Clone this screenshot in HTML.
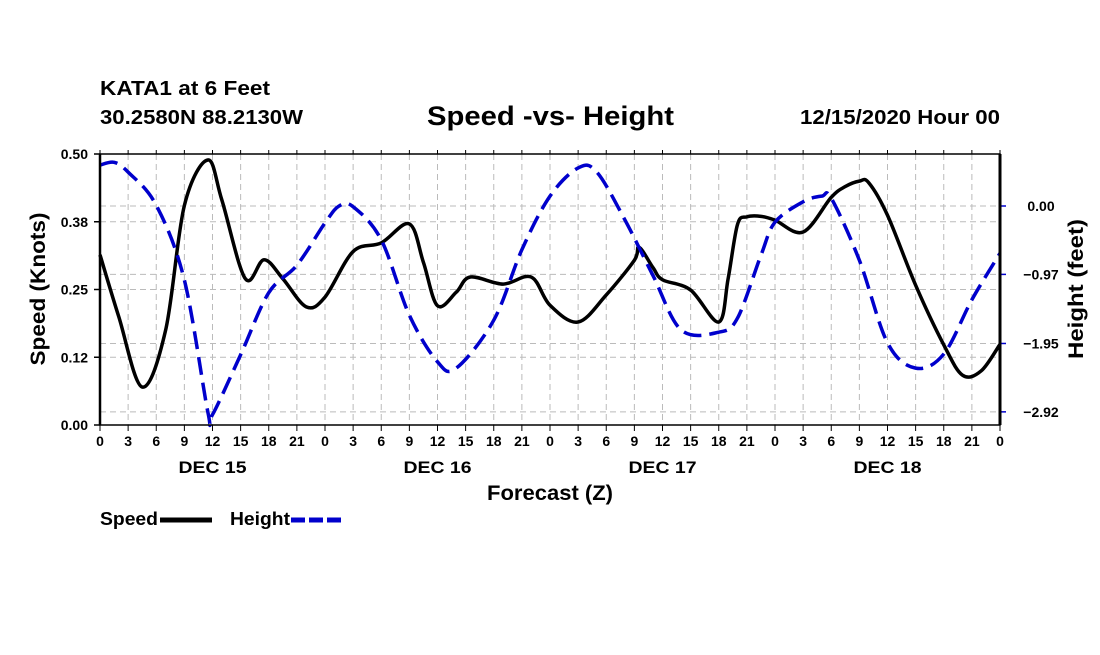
<!DOCTYPE html>
<html><head><meta charset="utf-8"><style>
body{margin:0;background:#fff;width:1100px;height:650px;overflow:hidden;font-family:"Liberation Sans",sans-serif}
svg text{font-family:"Liberation Sans",sans-serif;font-weight:bold}
</style></head><body>
<svg id="chart" width="1100" height="650" xmlns="http://www.w3.org/2000/svg">
<text x="100" y="95" font-size="20" textLength="170" lengthAdjust="spacingAndGlyphs">KATA1 at 6 Feet</text>
<text x="100" y="124" font-size="20" textLength="203" lengthAdjust="spacingAndGlyphs">30.2580N 88.2130W</text>
<text x="427" y="125" font-size="27" textLength="247" lengthAdjust="spacingAndGlyphs">Speed -vs- Height</text>
<text x="800" y="124" font-size="20" textLength="200" lengthAdjust="spacingAndGlyphs">12/15/2020 Hour 00</text>
<g id="grid"></g><g id="series"></g><g id="axes"></g>
<text transform="translate(45,289) rotate(-90)" font-size="21" text-anchor="middle" textLength="153" lengthAdjust="spacingAndGlyphs">Speed (Knots)</text>
<text transform="translate(1083,289) rotate(-90)" font-size="21" text-anchor="middle" textLength="140" lengthAdjust="spacingAndGlyphs">Height (feet)</text>
<text x="550" y="500" font-size="21" text-anchor="middle" textLength="126" lengthAdjust="spacingAndGlyphs">Forecast (Z)</text>
<g><text x="100" y="525" font-size="18" textLength="58" lengthAdjust="spacingAndGlyphs">Speed</text><line x1="160" y1="520" x2="212" y2="520" stroke="#000" stroke-width="5"/></g>
<g><text x="230" y="525" font-size="18" textLength="60" lengthAdjust="spacingAndGlyphs">Height</text><line x1="291" y1="520" x2="343" y2="520" stroke="#00c" stroke-width="5" stroke-dasharray="14,4"/></g>
</svg>
<script>
const hours=[0,2,4.5,7,9,11.5,13,15.5,17.5,19.5,22,24,27,30,33,34.5,36,38,39.5,43,46,48,51,54,57,57.5,59,60,63,66,67,68,69,70.5,72,75,78,79.5,81,82,84,87,90,92,94,96];
const speed=[0.314,0.2,0.07,0.175,0.405,0.489,0.415,0.27,0.305,0.27,0.218,0.236,0.32,0.336,0.371,0.3,0.22,0.245,0.273,0.26,0.273,0.221,0.19,0.24,0.304,0.328,0.29,0.268,0.249,0.19,0.27,0.37,0.384,0.385,0.378,0.356,0.42,0.44,0.45,0.447,0.387,0.258,0.148,0.092,0.1,0.149];
const hHours=[0,1.5,3,6,9,11.5,12,15,18,21,24,25.5,27,30,33,36,38,42,45,48,51,53,56,59,62,66,68,70.5,72,75,77,78,81,84,87,90,93,96];
const height=[0.58,0.62,0.48,0.01,-1.05,-2.92,-2.96,-2.11,-1.23,-0.84,-0.24,0,-0.01,-0.48,-1.55,-2.21,-2.30,-1.62,-0.62,0.14,0.54,0.48,-0.2,-0.99,-1.76,-1.79,-1.59,-0.7,-0.23,0.06,0.14,0.11,-0.77,-1.94,-2.3,-2.1,-1.33,-0.67];
const speedTicks=[0,0.125,0.25,0.375,0.5];
const speedLabels=["0.00","0.12","0.25","0.38","0.50"];
const heightTicks=[0,-0.97,-1.95,-2.92];
const heightLabels=["0.00","\u22120.97","\u22121.95","\u22122.92"];
const dayLabels=["DEC 15","DEC 16","DEC 17","DEC 18"];
const L=100,R=1000,T=154,B=425;
const x=h=>L+h*(R-L)/96;
const ys=v=>B-v*(B-T)/0.5;
const yh=v=>206-v*70.5;
const NS="http://www.w3.org/2000/svg";
function mk(tag,parent,attrs){const e=document.createElementNS(NS,tag);for(const k in attrs)e.setAttribute(k,attrs[k]);parent.appendChild(e);return e;}
const grid=document.getElementById('grid'),axes=document.getElementById('axes'),ser=document.getElementById('series');
for(let h=3;h<96;h+=3){const g=mk('line',grid,{x1:x(h),x2:x(h),y1:T,y2:B,stroke:'#bbb','stroke-dasharray':'6,4'});

}
speedTicks.forEach((v,i)=>{if(i>0&&i<4){const g=mk('line',grid,{x1:L,x2:R,y1:ys(v),y2:ys(v),stroke:'#bbb','stroke-dasharray':'6,4'});

}
mk('line',axes,{x1:L-6,x2:L,y1:ys(v),y2:ys(v),stroke:'#000','stroke-width':1.5});
const t=mk('text',axes,{x:L-12,y:ys(v)+5,'font-size':14,'text-anchor':'end'});t.textContent=speedLabels[i];

});
heightTicks.forEach((v,i)=>{const g=mk('line',grid,{x1:L,x2:R,y1:yh(v),y2:yh(v),stroke:'#bbb','stroke-dasharray':'6,4'});


mk('line',axes,{x1:R,x2:R+6,y1:yh(v),y2:yh(v),stroke:'#00c','stroke-width':1.5});
const t=mk('text',axes,{x:1041,y:yh(v)+5,'font-size':14,'text-anchor':'middle'});t.textContent=heightLabels[i];

});
mk('rect',axes,{x:L,y:T,width:R-L,height:B-T,fill:'none',stroke:'#000','stroke-width':1.5});
mk('line',axes,{x1:L,x2:L,y1:T,y2:B,stroke:'#000','stroke-width':2.5});
mk('line',axes,{x1:R,x2:R,y1:T,y2:B,stroke:'#000','stroke-width':3});
for(let h=0;h<=96;h+=3){mk('line',axes,{x1:x(h),x2:x(h),y1:B,y2:B+6,stroke:'#000'});mk('line',axes,{x1:x(h),x2:x(h),y1:T,y2:T-4,stroke:'#000'});
const t=mk('text',axes,{x:x(h),y:B+21,'font-size':14,'text-anchor':'middle'});t.textContent=String(h%24);

}
dayLabels.forEach((d,i)=>{const t=mk('text',axes,{x:x(12+24*i),y:B+48,'font-size':17,'text-anchor':'middle',textLength:68,lengthAdjust:'spacingAndGlyphs'});t.textContent=d;

});
function path(xs,vs,fy){const p=xs.map((h,i)=>[x(h),fy(vs[i])]);let d='M'+p[0][0]+','+p[0][1];
for(let i=0;i<p.length-1;i++){const p0=p[Math.max(0,i-1)],p1=p[i],p2=p[i+1],p3=p[Math.min(p.length-1,i+2)];
d+=` C${p1[0]+(p2[0]-p0[0])/6},${p1[1]+(p2[1]-p0[1])/6} ${p2[0]-(p3[0]-p1[0])/6},${p2[1]-(p3[1]-p1[1])/6} ${p2[0]},${p2[1]}`;}return d;}
const sp=mk('path',ser,{d:path(hours,speed,ys),fill:'none',stroke:'#000','stroke-width':3.5});


const hp=mk('path',ser,{d:path(hHours,height,yh),fill:'none',stroke:'#00c','stroke-width':3.5,'stroke-dasharray':'18,8'});


</script>
</body></html>
